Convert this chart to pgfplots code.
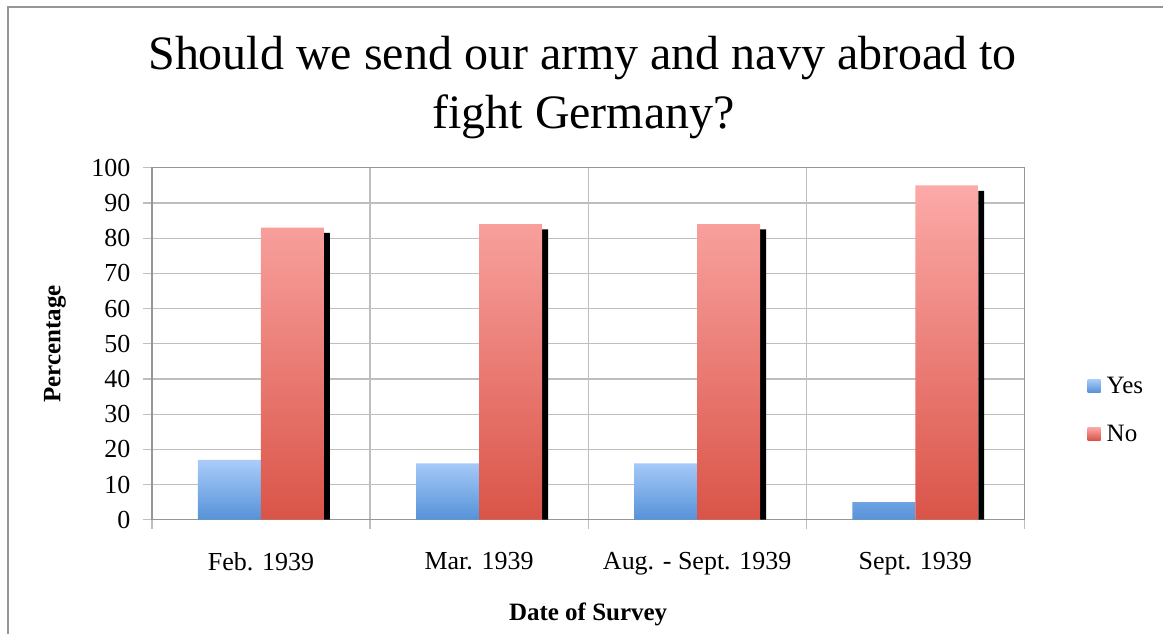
\documentclass[border=0pt]{standalone}
\usepackage{fontspec}
\setmainfont{Liberation Serif}
\usepackage{pgfplots}
\pgfplotsset{compat=1.18}

\definecolor{yesTop}{RGB}{170,204,250}
\definecolor{yesBot}{RGB}{86,146,216}
\definecolor{noTop}{RGB}{252,170,168}
\definecolor{noBot}{RGB}{218,84,72}
\definecolor{gridc}{RGB}{190,190,190}
\definecolor{axisc}{RGB}{150,150,150}

\begin{document}
\begin{tikzpicture}
% page frame (cropped at right and bottom in the reference)
\path (0pt,0pt) rectangle (1164pt,-634pt);
\draw[axisc, line width=1.5pt] (8pt,-634pt) -- (8pt,-7pt) -- (1164pt,-7pt);

\node[font=\fontsize{48}{58}\selectfont, anchor=base] at (583pt,-70pt) {Should we send our army and navy abroad to};
\node[font=\fontsize{48}{58}\selectfont, anchor=base] at (584pt,-129pt) {fight Germany?};

\begin{axis}[
  at={(152pt,-520pt)}, anchor=south west,
  scale only axis, width=873pt, height=352pt,
  ybar,
  xmin=-0.5, xmax=3.5, ymin=0, ymax=100,
  enlargelimits=false,
  xtick={0,1,2,3},
  xticklabels={Feb. 1939, Mar. 1939, Aug. - Sept. 1939, Sept. 1939},
  minor xtick={-0.5,0.5,1.5,2.5,3.5},
  ytick={0,10,...,100},
  xtick pos=bottom, ytick pos=left,
  major x tick style={draw=none},
  tick align=outside,
  major tick length=9pt, minor tick length=9pt,
  tick style={gridc, line width=1.2pt},
  ymajorgrids, xminorgrids,
  grid style={gridc, line width=1.2pt},
  minor grid style={gridc, line width=1.2pt},
  axis line style={axisc, line width=1.2pt},
  tick label style={font=\fontsize{26}{30}\selectfont},
  /pgf/number format/assume math mode=true,
  xticklabel style={yshift=-20pt},
  yticklabel style={xshift=-9pt},
  xlabel={\textbf{Date of Survey}},
  ylabel={\textbf{Percentage}},
  label style={font=\fontsize{25}{30}\selectfont},
  xlabel style={at={(axis description cs:0.5,-0.268)}, anchor=center},
  ylabel style={at={(axis description cs:-0.111,0.5)}, anchor=center},
  legend style={at={(axis description cs:1.069,0.3125)}, anchor=west,
    draw=none, fill=none, font=\fontsize{25}{30}\selectfont,
    row sep=26pt, column sep=4pt},
  legend cell align=left,
]
\addplot[bar width=6pt, bar shift=66pt, fill=black, draw=none, forget plot]
  coordinates {(0,81.5)(1,82.5)(2,82.5)(3,93.5)};
\addplot[bar width=63pt, bar shift=-31.5pt, draw=none,
  top color=yesTop, bottom color=yesBot,
  legend image code/.code={\shade[top color=yesTop,bottom color=yesBot] (0pt,-6.5pt) rectangle (13pt,6.5pt);}]
  coordinates {(0,17)(1,16)(2,16)(3,5)};
\addplot[bar width=63pt, bar shift=31.5pt, draw=none,
  top color=noTop, bottom color=noBot,
  legend image code/.code={\shade[top color=noTop,bottom color=noBot] (0pt,-6.5pt) rectangle (13pt,6.5pt);}]
  coordinates {(0,83)(1,84)(2,84)(3,95)};
\legend{Yes, No}
\end{axis}
\end{tikzpicture}
\end{document}
